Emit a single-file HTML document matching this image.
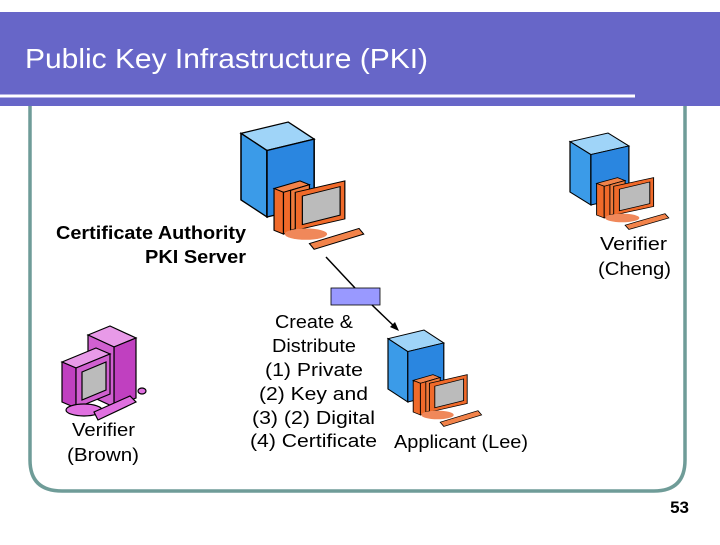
<!DOCTYPE html>
<html><head><style>
body{margin:0;width:720px;height:540px;background:#fff;overflow:hidden}
svg text{font-family:"Liberation Sans",sans-serif}
</style></head><body>
<svg width="720" height="540" xmlns="http://www.w3.org/2000/svg">
<defs>
<g id="srv">
 <polygon points="0,12 40,0 62,18 22,30" fill="#9fd4f8" stroke="#000" stroke-width="1.3"/>
 <polygon points="0,12 22,30 22,100 0,82" fill="#3b9be8" stroke="#000" stroke-width="1.3"/>
 <polygon points="22,30 62,18 62,88 22,100" fill="#2a86e0" stroke="#000" stroke-width="1.3"/>
 <polygon points="28,70 50,62 58,66 36,74" fill="#f2834a" stroke="#000"/>
 <polygon points="28,70 36,74 36,118 28,114" fill="#f06a2a" stroke="#000"/>
 <polygon points="36,74 58,66 58,110 36,118" fill="#f06a2a" stroke="#000"/>
 <polygon points="42,72 58,66 58,108 42,114" fill="#ee7a3c" stroke="#000"/>
 <polygon points="46,74 88,62 88,102 46,114" fill="#f06a2a" stroke="#000"/>
 <polygon points="52,78 84,68 84,98 52,108" fill="#bbb" stroke="#000"/>
 <ellipse cx="55" cy="118" rx="18" ry="6" fill="#f0885a"/>
 <polygon points="58,128 100,112 104,118 62,134" fill="#f2834a" stroke="#000"/>
</g>
</defs>
<rect x="0" y="12" width="720" height="94" fill="#6766c8"/>
<line x1="0" y1="96" x2="635" y2="96" stroke="#fff" stroke-width="3"/>
<text x="25" y="68" font-size="28" fill="#fff" textLength="403" lengthAdjust="spacingAndGlyphs">Public Key Infrastructure (PKI)</text>
<path d="M30,106 V460 Q30,491 62,491 H654 Q685,491 685,460 V106" fill="none" stroke="#6f9c98" stroke-width="3.5"/>
<use href="#srv" transform="translate(241,122) scale(1.18,0.95)"/>
<use href="#srv" transform="translate(570,133) scale(0.95,0.72)"/>
<use href="#srv" transform="translate(388,330) scale(0.9,0.72)"/>
<g stroke="#000" stroke-width="1.2">
 <polygon points="88,335 110,326 136,338 114,347" fill="#e89ae8"/>
 <polygon points="114,347 136,338 136,398 114,407" fill="#c040c0"/>
 <polygon points="88,335 114,347 114,407 88,395" fill="#d060d0"/>
 <polygon points="62,362 96,348 110,354 76,368" fill="#e89ae8"/>
 <polygon points="62,362 76,368 76,408 62,402" fill="#c040c0"/>
 <polygon points="76,368 110,354 110,394 76,408" fill="#d060d0"/>
 <polygon points="82,372 106,362 106,390 82,400" fill="#bbb"/>
 <ellipse cx="84" cy="410" rx="18" ry="6" fill="#e070e0"/>
 <polygon points="94,412 130,396 136,402 98,420" fill="#e070e0"/>
 <ellipse cx="142" cy="391" rx="4" ry="3" fill="#e070e0"/>
</g>
<line x1="326" y1="257" x2="355" y2="288" stroke="#000" stroke-width="1.5"/>
<rect x="331" y="288" width="49" height="17" fill="#9999ff" stroke="#000" stroke-width="0.8"/>
<line x1="372" y1="305" x2="396" y2="328" stroke="#000" stroke-width="1.5"/>
<polygon points="399,331 390,327 395,322" fill="#000"/>
<g font-size="18" font-weight="bold" fill="#000">
 <text x="56" y="239" textLength="190" lengthAdjust="spacingAndGlyphs">Certificate Authority</text>
 <text x="145" y="263" textLength="101" lengthAdjust="spacingAndGlyphs">PKI Server</text>
</g>
<g font-size="18" fill="#000">
 <text x="600" y="250" textLength="67" lengthAdjust="spacingAndGlyphs">Verifier</text>
 <text x="598" y="275" textLength="73" lengthAdjust="spacingAndGlyphs">(Cheng)</text>
 <text x="72" y="436" textLength="63" lengthAdjust="spacingAndGlyphs">Verifier</text>
 <text x="67" y="461" textLength="72" lengthAdjust="spacingAndGlyphs">(Brown)</text>
 <text x="275" y="328" textLength="78" lengthAdjust="spacingAndGlyphs">Create &amp;</text>
 <text x="272" y="352" textLength="84" lengthAdjust="spacingAndGlyphs">Distribute</text>
 <text x="265" y="376" textLength="98" lengthAdjust="spacingAndGlyphs">(1)  Private</text>
 <text x="259" y="400" textLength="109" lengthAdjust="spacingAndGlyphs">(2)  Key and</text>
 <text x="252" y="424" textLength="123" lengthAdjust="spacingAndGlyphs">(3)  (2) Digital</text>
 <text x="250" y="447" textLength="127" lengthAdjust="spacingAndGlyphs">(4)  Certificate</text>
 <text x="394" y="448" textLength="134" lengthAdjust="spacingAndGlyphs">Applicant (Lee)</text>
</g>
<text x="689" y="513" font-size="17" font-weight="bold" text-anchor="end">53</text>
</svg>
</body></html>
